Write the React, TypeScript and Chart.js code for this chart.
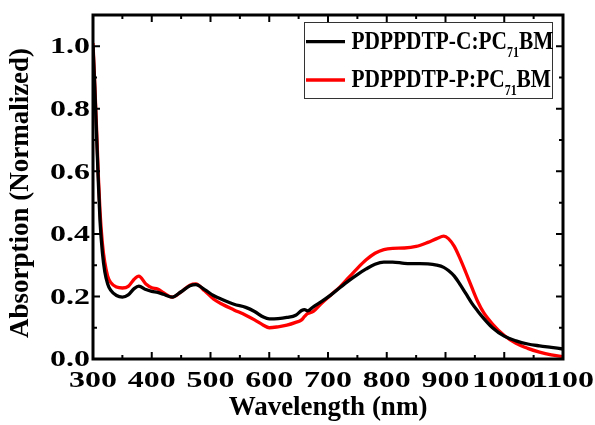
import { useEffect, useRef } from 'react';
import { Chart, registerables } from 'chart.js';

Chart.register(...registerables);

// Wavelength grid (nm) shared by both blends
const wavelengths = [
  300, 303, 306, 309, 312, 316, 320, 325, 330, 340, 350, 360, 370, 378, 390, 400, 410, 420, 435, 450,
  465, 475, 490, 505, 520, 540, 560, 575, 590, 600, 615, 630, 645, 655, 660, 665, 675, 690, 705, 720,
  735, 750, 765, 780, 795, 810, 830, 850, 870, 885, 897, 905, 915, 925, 935, 945, 955, 965, 980, 1000,
  1020, 1040, 1060, 1080, 1100,
];

// Normalized absorption, PDPPDTP-C:PC71BM blend
const absorptionC = [
  1.0, 0.87, 0.72, 0.57, 0.44, 0.34, 0.28, 0.24, 0.22, 0.203, 0.198, 0.205, 0.225, 0.233, 0.222, 0.216, 0.213, 0.207, 0.198, 0.215,
  0.234, 0.238, 0.222, 0.203, 0.19, 0.175, 0.165, 0.152, 0.134, 0.128, 0.129, 0.133, 0.14, 0.155, 0.158, 0.154, 0.167, 0.185, 0.205, 0.228,
  0.25, 0.27, 0.288, 0.303, 0.31, 0.31, 0.306, 0.305, 0.304, 0.3, 0.293, 0.283, 0.265, 0.238, 0.208, 0.178, 0.153, 0.13, 0.1, 0.073,
  0.058, 0.048, 0.042, 0.037, 0.032,
];

// Normalized absorption, PDPPDTP-P:PC71BM blend
const absorptionP = [
  1.01, 0.88, 0.74, 0.59, 0.47, 0.37, 0.31, 0.265, 0.245, 0.23, 0.227, 0.232, 0.255, 0.265, 0.24, 0.228, 0.224, 0.212, 0.198, 0.215,
  0.236, 0.24, 0.218, 0.192, 0.175, 0.157, 0.14, 0.125, 0.108, 0.1, 0.103, 0.108, 0.117, 0.125, 0.136, 0.145, 0.152, 0.18, 0.205, 0.23,
  0.26, 0.29, 0.317, 0.338, 0.35, 0.354, 0.355, 0.36, 0.373, 0.385, 0.393, 0.385, 0.36, 0.32, 0.275, 0.228, 0.183, 0.148, 0.112, 0.075,
  0.05, 0.034, 0.022, 0.013, 0.007,
];

const xTickLabels = [300, 400, 500, 600, 700, 800, 900, 1000, 1100];
const yTickLabels = [0.0, 0.2, 0.4, 0.6, 0.8, 1.0];
const yAxisTitle = 'Absorption (Normalized)';

// Legend entries: base name, subscript, tail
const legendEntries = [
  { base: 'PDPPDTP-C:PC', sub: '71', tail: 'BM', color: '#000000' },
  { base: 'PDPPDTP-P:PC', sub: '71', tail: 'BM', color: '#ff0000' },
];

const SERIF = '"Liberation Serif", "Times New Roman", serif';

const frameAndTicks = {
  id: 'frameAndTicks',
  afterDraw(chart: any) {
    const { ctx, chartArea, scales } = chart;
    const { left, right, top, bottom } = chartArea;
    const x = scales.x;
    const y = scales.y;
    ctx.save();
    ctx.strokeStyle = '#000';
    ctx.fillStyle = '#000';

    // inward ticks on all four sides
    ctx.lineWidth = 2;
    ctx.beginPath();
    for (let i = 0; i < xTickLabels.length; i++) {
      const v = xTickLabels[i];
      const px = x.getPixelForValue(v);
      ctx.moveTo(px, bottom); ctx.lineTo(px, bottom - 7);
      ctx.moveTo(px, top); ctx.lineTo(px, top + 7);
      if (i < xTickLabels.length - 1) {
        const m = x.getPixelForValue((v + xTickLabels[i + 1]) / 2);
        ctx.moveTo(m, bottom); ctx.lineTo(m, bottom - 4);
        ctx.moveTo(m, top); ctx.lineTo(m, top + 4);
      }
    }
    for (let i = 0; i <= 11; i++) {
      const py = y.getPixelForValue(i / 10);
      const len = i % 2 === 0 ? 7 : 4;
      ctx.moveTo(left, py); ctx.lineTo(left + len, py);
      ctx.moveTo(right, py); ctx.lineTo(right - len, py);
    }
    ctx.stroke();

    // frame
    ctx.lineWidth = 3;
    ctx.strokeRect(left, top, right - left, bottom - top);

    // tick labels
    ctx.font = `bold 24px ${SERIF}`;
    ctx.textBaseline = 'middle';
    ctx.textAlign = 'center';
    for (const v of xTickLabels) {
      const px = x.getPixelForValue(v);
      ctx.save();
      ctx.translate(px, 381);
      ctx.scale(1.33, 1);
      ctx.fillText(String(v), 0, 0);
      ctx.restore();
    }
    ctx.textAlign = 'right';
    for (const v of yTickLabels) {
      const py = y.getPixelForValue(v);
      ctx.save();
      ctx.translate(left - 3, py + 1);
      ctx.scale(1.33, 1);
      ctx.fillText(v.toFixed(1), 0, 0);
      ctx.restore();
    }

    // y-axis title, rotated
    ctx.save();
    ctx.translate(21, 193);
    ctx.rotate(-Math.PI / 2);
    ctx.textAlign = 'center';
    ctx.textBaseline = 'middle';
    ctx.font = `bold 27px ${SERIF}`;
    ctx.fillText(yAxisTitle, 0, 0);
    ctx.restore();

    // legend
    ctx.lineWidth = 1;
    ctx.strokeStyle = '#333';
    ctx.strokeRect(304.5, 22.5, 248, 76);
    const rows = [41.7, 80];
    legendEntries.forEach((e, i) => {
      const cy = rows[i];
      ctx.strokeStyle = e.color;
      ctx.lineWidth = 3.3;
      ctx.beginPath();
      ctx.moveTo(306, cy);
      ctx.lineTo(345, cy);
      ctx.stroke();

      ctx.fillStyle = '#000';
      ctx.textAlign = 'left';
      ctx.textBaseline = 'alphabetic';
      const sx = 0.855;
      const base = cy + 6.8;
      let tx = 351.5;
      ctx.save();
      ctx.translate(tx, base);
      ctx.scale(sx, 1);
      ctx.font = `bold 25px ${SERIF}`;
      ctx.fillText(e.base, 0, 0);
      const w1 = ctx.measureText(e.base).width * sx;
      ctx.restore();
      tx += w1;
      ctx.save();
      ctx.translate(tx, base + 8);
      ctx.scale(sx, 1);
      ctx.font = `bold 14px ${SERIF}`;
      ctx.fillText(e.sub, 0, 0);
      const w2 = ctx.measureText(e.sub).width * sx;
      ctx.restore();
      tx += w2;
      ctx.save();
      ctx.translate(tx, base);
      ctx.scale(sx, 1);
      ctx.font = `bold 25px ${SERIF}`;
      ctx.fillText(e.tail, 0, 0);
      ctx.restore();
    });
    ctx.restore();
  },
};

export default function App() {
  const canvasRef = useRef<HTMLCanvasElement | null>(null);

  useEffect(() => {
    const canvas = canvasRef.current;
    if (!canvas) return;
    const chart = new Chart(canvas, {
      type: 'line',
      data: {
        datasets: [
          {
            label: 'PDPPDTP-C:PC71BM',
            data: wavelengths.map((w, i) => ({ x: w, y: absorptionC[i] })),
            borderColor: '#000000',
            borderWidth: 3.3,
            pointRadius: 0,
            cubicInterpolationMode: 'monotone',
            fill: false,
          },
          {
            label: 'PDPPDTP-P:PC71BM',
            data: wavelengths.map((w, i) => ({ x: w, y: absorptionP[i] })),
            borderColor: '#ff0000',
            borderWidth: 3.3,
            pointRadius: 0,
            cubicInterpolationMode: 'monotone',
            fill: false,
          },
        ],
      },
      options: {
        animation: false,
        responsive: false,
        devicePixelRatio: 1,
        layout: { padding: { top: 15, right: 32, left: 0, bottom: 0 } },
        plugins: { legend: { display: false }, tooltip: { enabled: false } },
        scales: {
          x: {
            type: 'linear',
            min: 300,
            max: 1100,
            grid: { display: false },
            border: { display: false },
            ticks: { display: false, stepSize: 100 },
            title: {
              display: true,
              text: 'Wavelength (nm)',
              color: '#000',
              font: { family: SERIF, size: 27, weight: 'bold' },
              padding: { top: 0, bottom: 1 },
            },
            afterFit: (scale: any) => { scale.height = 66; },
          },
          y: {
            type: 'linear',
            min: 0,
            max: 1.1,
            grid: { display: false },
            border: { display: false },
            ticks: { display: false, stepSize: 0.2 },
            title: { display: false },
            afterFit: (scale: any) => { scale.width = 93; },
          },
        },
      },
      plugins: [frameAndTicks],
    } as any);
    return () => chart.destroy();
  }, []);

  return (
    <div style={{ position: 'fixed', left: 0, top: 0, width: 595, height: 425, background: '#fff' }}>
      <canvas ref={canvasRef} width={595} height={425} style={{ display: 'block' }} />
    </div>
  );
}
